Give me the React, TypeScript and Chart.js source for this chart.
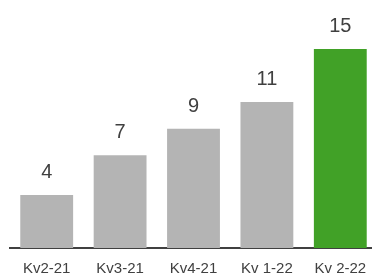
import React, { useEffect, useRef } from "react";
import { Chart, registerables } from "chart.js";

Chart.register(...registerables);

const categories = ["Kv2-21", "Kv3-21", "Kv4-21", "Kv 1-22", "Kv 2-22"];
const values = [4, 7, 9, 11, 15];
const barColors = ["#b4b4b4", "#b4b4b4", "#b4b4b4", "#b4b4b4", "#41a127"];

const valueLabels = {
  id: "valueLabels",
  afterDatasetsDraw(chart: any) {
    const ctx = chart.ctx;
    const meta = chart.getDatasetMeta(0);
    ctx.save();
    ctx.font = "20px 'Liberation Sans', Arial, sans-serif";
    ctx.fillStyle = "#404040";
    ctx.textAlign = "center";
    ctx.textBaseline = "alphabetic";
    meta.data.forEach((el: any, i: number) => {
      ctx.fillText(String(values[i]), el.x, el.y - 17);
    });
    ctx.restore();
  },
};

export default function App() {
  const ref = useRef<HTMLCanvasElement>(null);
  useEffect(() => {
    if (!ref.current) return;
    const chart = new Chart(ref.current, {
      type: "bar",
      data: {
        labels: categories,
        datasets: [
          {
            data: values,
            backgroundColor: barColors,
            borderWidth: 0,
            categoryPercentage: 1,
            barPercentage: 0.72,
          },
        ],
      },
      options: {
        animation: false,
        responsive: false,
        maintainAspectRatio: false,
        layout: { padding: { left: 10, right: 3, top: 0, bottom: 0 } },
        plugins: { legend: { display: false }, tooltip: { enabled: false } },
        scales: {
          x: {
            grid: { display: false },
            border: { display: true, color: "#404040", width: 2 },
            ticks: {
              color: "#404040",
              padding: 4,
              font: { family: "'Liberation Sans', Arial, sans-serif", size: 15 },
            },
          },
          y: {
            display: false,
            min: 0,
            max: 18.7,
          },
        },
      },
      plugins: [valueLabels],
    });
    return () => chart.destroy();
  }, []);
  return (
    <div style={{ position: "absolute", left: 0, top: 0, width: 380, height: 282 }}>
      <canvas ref={ref} width={380} height={282} style={{ width: 380, height: 282 }} />
    </div>
  );
}
